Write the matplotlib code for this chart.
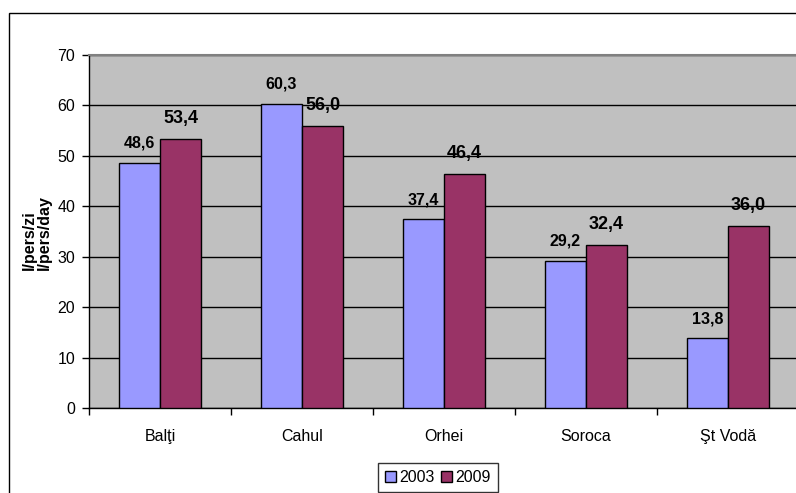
import matplotlib
matplotlib.use("Agg")
import matplotlib.pyplot as plt
from matplotlib.patches import Rectangle
import numpy as np

plt.rcParams['font.family'] = ['Liberation Sans', 'DejaVu Sans']

categories = ["Balţi", "Cahul", "Orhei", "Soroca", "Şt Vodă"]
v2003 = [48.6, 60.3, 37.4, 29.2, 13.8]
v2009 = [53.4, 56.0, 46.4, 32.4, 36.0]
series_names = ["2003", "2009"]
ylabel = "l/pers/zi\nl/pers/day"

W, H = 796, 493
fig = plt.figure(figsize=(W / 100, H / 100), dpi=100)
ax = fig.add_axes([89 / W, 1 - 408 / H, (799 - 89) / W, (408 - 55) / H])

# outer chart border
fig.patches.append(Rectangle((9 / W, -0.05), 1.2, (493 - 13) / H + 0.05, transform=fig.transFigure,
                             fill=False, edgecolor='black', linewidth=1.0, clip_on=False))

ax.set_facecolor('#C0C0C0')
x = np.arange(len(categories))
bw = 41 / 142
b1 = ax.bar(x - bw / 2, v2003, bw, color='#9999FF', edgecolor='black', linewidth=1.0, zorder=3, label=series_names[0])
b2 = ax.bar(x + bw / 2, v2009, bw, color='#993366', edgecolor='black', linewidth=1.0, zorder=3, label=series_names[1])

for rect, v in zip(b1, v2003):
    ax.annotate(f"{v:.1f}".replace('.', ','), (rect.get_x() + rect.get_width() / 2, v),
                xytext=(0, 15), textcoords='offset pixels', ha='center', va='baseline',
                fontsize=11.5, fontweight='bold', zorder=5)
for rect, v in zip(b2, v2009):
    ax.annotate(f"{v:.1f}".replace('.', ','), (rect.get_x() + rect.get_width() / 2, v),
                xytext=(0, 16), textcoords='offset pixels', ha='center', va='baseline',
                fontsize=13, fontweight='bold', zorder=5)

ax.set_xlim(-0.5, len(categories) - 0.5)
ax.set_ylim(0, 70)
ax.set_yticks(np.arange(0, 71, 10))
ax.yaxis.grid(True, color='black', linewidth=1.0, zorder=0)
ax.set_axisbelow(True)

ax.set_xticks(x)
ax.set_xticklabels(categories, fontsize=11.5)
ax.tick_params(axis='x', which='major', length=0, pad=15)
ax.set_xticks(np.arange(-0.5, len(categories), 1.0), minor=True)
ax.tick_params(axis='x', which='minor', length=5, width=1, color='black', direction='out')
ax.tick_params(axis='y', length=5, width=1, direction='out', labelsize=11.5, pad=5)

for s in ['left', 'bottom']:
    ax.spines[s].set_color('black')
    ax.spines[s].set_linewidth(1.0)
ax.spines['top'].set_color('#808080')
ax.spines['top'].set_linewidth(1.5)
ax.spines['right'].set_visible(False)

fig.text(37 / W, 1 - 270 / H, ylabel, rotation=90, ha='center', va='bottom',
         fontsize=11.5, fontweight='bold', multialignment='left', linespacing=1.05)

leg = ax.legend(loc='upper left', bbox_to_anchor=(378 / W, 1 - 463 / H), bbox_transform=fig.transFigure,
                ncol=2, fontsize=11.5, frameon=True, fancybox=False, handlelength=0.65, handleheight=0.65,
                handletextpad=0.25, columnspacing=0.4, borderpad=0.45, borderaxespad=0)
leg.get_frame().set_edgecolor('black')
leg.get_frame().set_linewidth(1.0)

fig.savefig('out.png', dpi=100)
